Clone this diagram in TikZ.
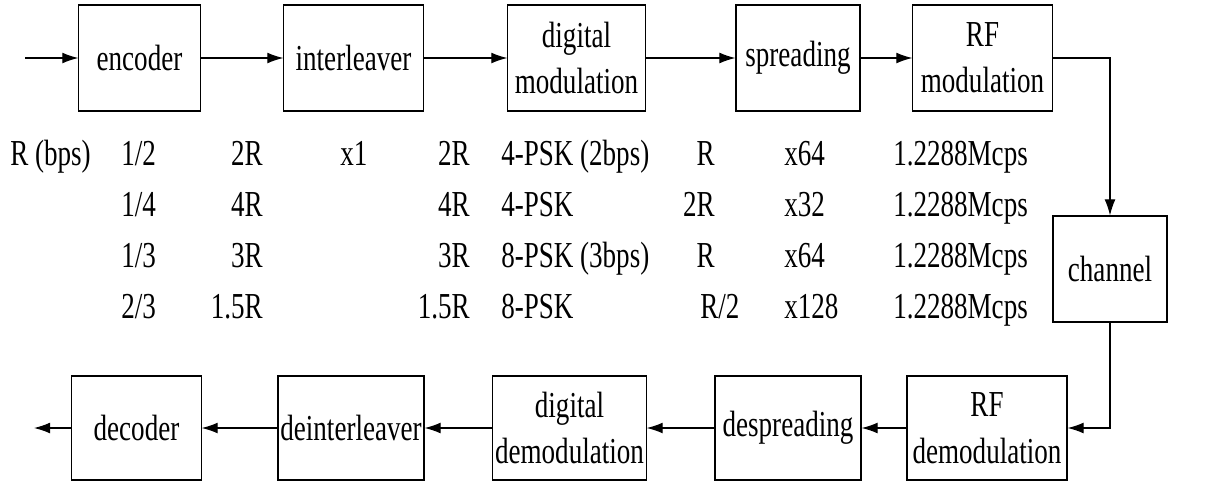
\documentclass[tikz,border=0pt]{standalone}
\usepackage{fontspec}
\setmainfont{Liberation Serif}[FakeStretch=0.74]
\usetikzlibrary{arrows.meta}

\begin{document}
\begin{tikzpicture}[x=0.025cm,y=-0.025cm,
  font=\fontsize{26pt}{33pt}\selectfont,
  blk/.style={draw,line width=0.8pt,inner sep=0pt,align=center,minimum height=2.65cm},
  arr/.style={-{Latex[length=4mm,width=2.7mm]},line width=0.8pt},
  txt/.style={anchor=base west,inner sep=0pt},
  txtr/.style={anchor=base east,inner sep=0pt}]
  \useasboundingbox (0,0) rectangle (1222,482);
  % transmitter chain
  \coordinate (src) at (25,58);
  \node[blk,minimum width=3.03cm] (enc) at (139.5,58) {encoder};
  \node[blk,minimum width=3.48cm] (intl) at (353.5,58) {interleaver};
  \node[blk,minimum width=3.43cm] (dmod) at (576.5,58) {digital\\modulation};
  \node[blk,minimum width=3.1cm] (spread) at (798,58) {spreading};
  \node[blk,minimum width=3.48cm] (rfmod) at (982.5,58) {RF\\modulation};
  \draw[arr] (src) -- (enc);
  \draw[arr] (enc) -- (intl);
  \draw[arr] (intl) -- (dmod);
  \draw[arr] (dmod) -- (spread);
  \draw[arr] (spread) -- (rfmod);
  % channel
  \node[blk,minimum width=2.85cm] (chan) at (1110,269) {channel};
  \draw[arr] (rfmod.east) -| (chan.north);
  % receiver chain
  \node[blk,minimum height=2.6cm,minimum width=4.0cm] (rfdemod) at (987,428) {RF\\demodulation};
  \node[blk,minimum height=2.6cm,minimum width=3.65cm] (despread) at (788,428) {despreading};
  \node[blk,minimum height=2.6cm,minimum width=3.83cm] (ddemod) at (569.5,428) {digital\\demodulation};
  \node[blk,minimum height=2.6cm,minimum width=3.65cm] (deintl) at (351,428) {deinterleaver};
  \node[blk,minimum height=2.6cm,minimum width=3.23cm] (dec) at (136.5,428) {decoder};
  \coordinate (sink) at (34,428);
  \draw[arr] (chan.south) |- (rfdemod.east);
  \draw[arr] (rfdemod) -- (despread);
  \draw[arr] (despread) -- (ddemod);
  \draw[arr] (ddemod) -- (deintl);
  \draw[arr] (deintl) -- (dec);
  \draw[arr] (dec) -- (sink);
  % rates, row 1
  \node[txt] (r1a) at (10,165) {R (bps)};
  \node[txt] (r1b) at (121,165) {1/2};
  \node[txtr] (r1c) at (263,165) {2R};
  \node[txt] (r1d) at (340,165) {x1};
  \node[txtr] (r1e) at (470,165) {2R};
  \node[txt] (r1f) at (501,165) {4-PSK (2bps)};
  \node[txtr] (r1g) at (715,165) {R};
  \node[txt] (r1h) at (784,165) {x64};
  \node[txt] (r1i) at (893,165) {1.2288Mcps};
  % row 2
  \node[txt] (r2b) at (121,216) {1/4};
  \node[txtr] (r2c) at (263,216) {4R};
  \node[txtr] (r2e) at (470,216) {4R};
  \node[txt] (r2f) at (501,216) {4-PSK};
  \node[txtr] (r2g) at (715,216) {2R};
  \node[txt] (r2h) at (784,216) {x32};
  \node[txt] (r2i) at (893,216) {1.2288Mcps};
  % row 3
  \node[txt] (r3b) at (121,267) {1/3};
  \node[txtr] (r3c) at (263,267) {3R};
  \node[txtr] (r3e) at (470,267) {3R};
  \node[txt] (r3f) at (501,267) {8-PSK (3bps)};
  \node[txtr] (r3g) at (715,267) {R};
  \node[txt] (r3h) at (784,267) {x64};
  \node[txt] (r3i) at (893,267) {1.2288Mcps};
  % row 4
  \node[txt] (r4b) at (121,318) {2/3};
  \node[txtr] (r4c) at (263,318) {1.5R};
  \node[txtr] (r4e) at (470,318) {1.5R};
  \node[txt] (r4f) at (501,318) {8-PSK};
  \node[txt] (r4g) at (700,318) {R/2};
  \node[txt] (r4h) at (784,318) {x128};
  \node[txt] (r4i) at (893,318) {1.2288Mcps};
\end{tikzpicture}
\end{document}
